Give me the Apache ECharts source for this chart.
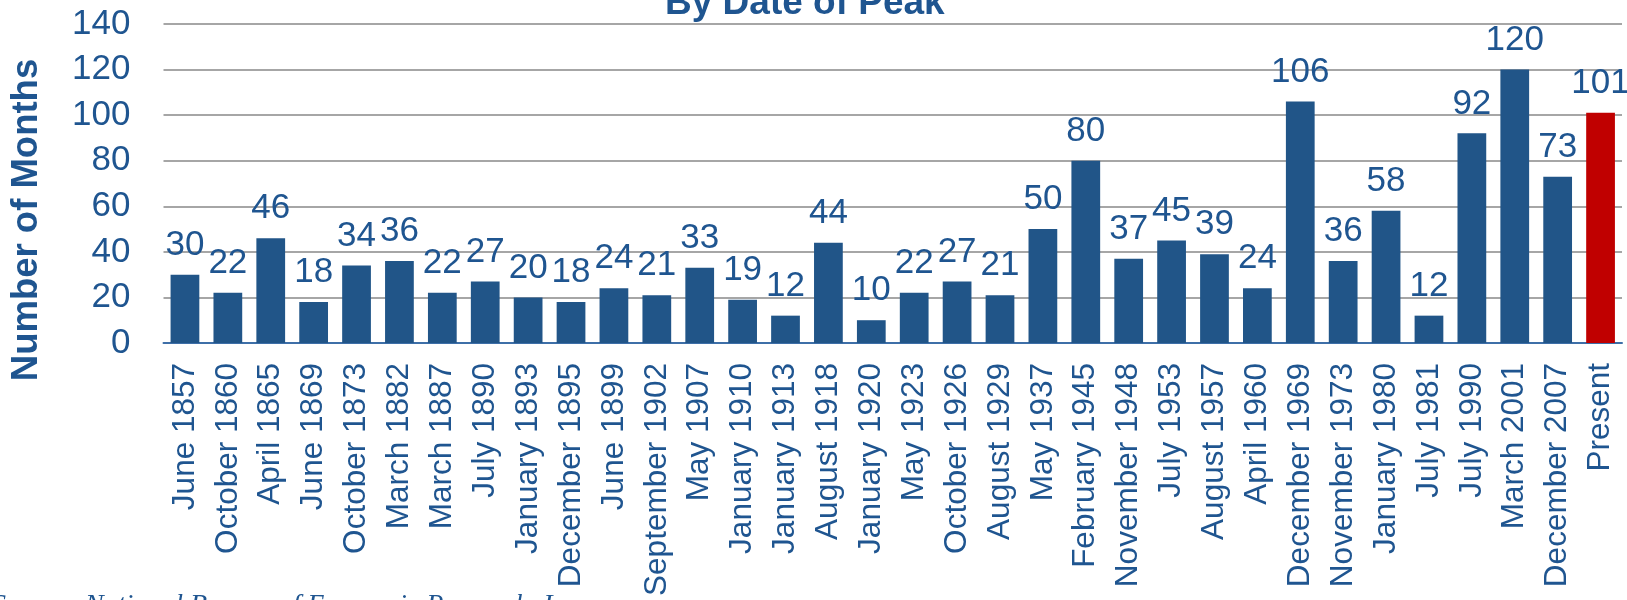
<!DOCTYPE html>
<html>
<head>
<meta charset="utf-8">
<script src="https://cdn.jsdelivr.net/npm/echarts@6/dist/echarts.min.js"></script>
<style>
html,body{margin:0;padding:0;background:#fff;}
#chart{width:1627px;height:600px;}
</style>
</head>
<body>
<div id="chart"></div>
<script>
const categories = ['June 1857','October 1860','April 1865','June 1869','October 1873','March 1882','March 1887','July 1890','January 1893','December 1895','June 1899','September 1902','May 1907','January 1910','January 1913','August 1918','January 1920','May 1923','October 1926','August 1929','May 1937','February 1945','November 1948','July 1953','August 1957','April 1960','December 1969','November 1973','January 1980','July 1981','July 1990','March 2001','December 2007','Present'];
const months = [30,22,46,18,34,36,22,27,20,18,24,21,33,19,12,44,10,22,27,21,50,80,37,45,39,24,106,36,58,12,92,120,73,101];
const highlightCategory = 'Present';
const titleText = 'By Date of Peak';
const yAxisTitle = 'Number of Months';
const sourceText = 'Source: National Bureau of Economic Research, Inc.';

const BLUE = '#215588';
const RED = '#C00000';
const TEXT = '#1F5590';

const chart = echarts.init(document.getElementById('chart'), null, {renderer: 'canvas'});
chart.setOption({
  animation: false,
  backgroundColor: '#fff',
  title: {
    text: titleText,
    left: 660,
    top: -20,
    textStyle: {fontFamily: 'Liberation Sans, Arial, sans-serif', fontWeight: 'bold', fontSize: 37, color: TEXT}
  },
  grid: {left: 163.5, right: 5, top: 24, bottom: 257, containLabel: false},
  xAxis: {
    type: 'category',
    data: categories,
    axisTick: {show: false},
    axisLine: {lineStyle: {color: '#3E6FA8', width: 2}},
    axisLabel: {
      interval: 0, rotate: 90, margin: 20,
      fontFamily: 'Liberation Sans, Arial, sans-serif', fontSize: 31.5, color: TEXT
    }
  },
  yAxis: {
    type: 'value',
    min: 0, max: 140, interval: 20,
    axisLine: {show: false},
    axisTick: {show: false},
    splitLine: {lineStyle: {color: '#A6A6A6', width: 2}},
    axisLabel: {margin: 33, fontFamily: 'Liberation Sans, Arial, sans-serif', fontSize: 35, color: TEXT}
  },
  series: [{
    type: 'bar',
    data: months.map((v, i) => ({
      value: v,
      itemStyle: {color: categories[i] === highlightCategory ? RED : BLUE}
    })),
    barCategoryGap: '33%',
    label: {
      show: true, position: 'top', distance: 12,
      fontFamily: 'Liberation Sans, Arial, sans-serif', fontSize: 35, color: TEXT
    }
  }],
  graphic: [
    {
      type: 'text',
      x: 27, y: 220,
      rotation: Math.PI / 2,
      style: {
        text: yAxisTitle,
        align: 'center', verticalAlign: 'middle',
        font: 'bold 36.5px "Liberation Sans", Arial, sans-serif',
        fill: TEXT
      }
    },
    {
      type: 'text',
      x: -8, y: 592,
      style: {
        text: sourceText,
        align: 'left', verticalAlign: 'top',
        font: 'italic 28px "Liberation Serif", "Times New Roman", serif',
        fill: TEXT
      }
    }
  ]
});
</script>
</body>
</html>
